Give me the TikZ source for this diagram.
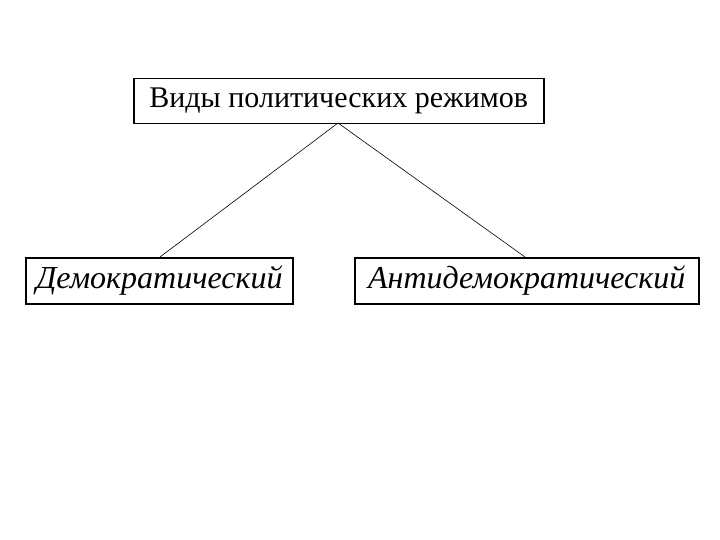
\documentclass[tikz,border=0pt]{standalone}
\usepackage{fontspec}
\setmainfont{Liberation Serif}
\begin{document}
\begin{tikzpicture}[x=1pt,y=-1pt]

      \useasboundingbox (0,0) rectangle (720,540);

      \begin{scope}[every node/.style={draw,line width=1.5pt,inner sep=0pt,anchor=north west}]
        \node[minimum width=410pt,minimum height=45pt,font=\fontsize{30}{34}\selectfont] (vidy) at (133,78) {Виды политических режимов};
        \node[minimum width=267pt,minimum height=46pt,font=\fontsize{32}{36}\selectfont\itshape] (dem) at (25,257) {Демократический};
        \node[minimum width=344pt,minimum height=46pt,font=\fontsize{32}{36}\selectfont\itshape] (anti) at (354,257) {Антидемократический};
      \end{scope}

      \coordinate (top) at (338,123);
      \coordinate (demtop) at (160,257);
      \coordinate (antitop) at (525,257);

      \begin{scope}[every edge/.style={draw,line width=0.6pt}]
        \path (top) edge (demtop);
        \path (top) edge (antitop);
      \end{scope}

    \end{tikzpicture}
\end{document}
